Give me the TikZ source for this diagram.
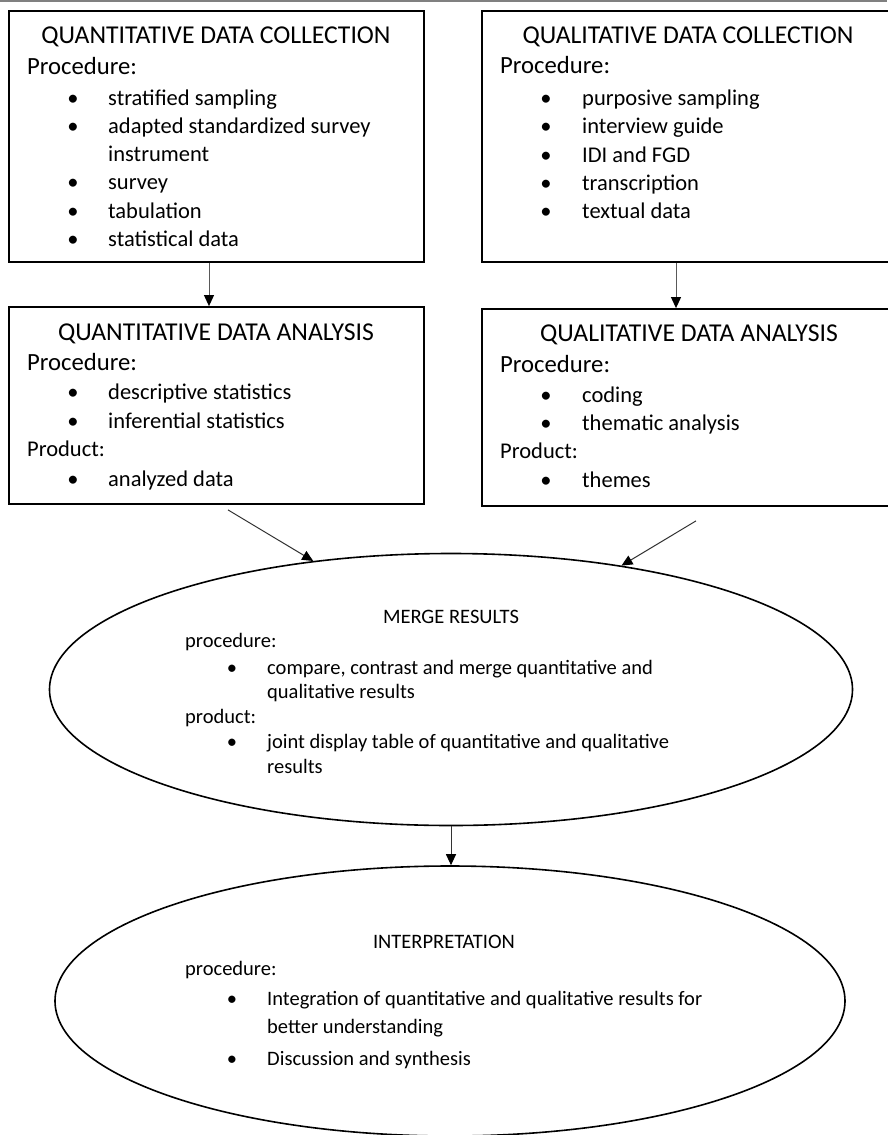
\documentclass[tikz,border=0pt]{standalone}
\usepackage{fontspec}
\setmainfont{Carlito}
\usetikzlibrary{shapes.geometric,arrows.meta}

\begin{document}
\begin{tikzpicture}[x=1pt, y=-1pt,
    stage/.style ={rectangle, draw, line width=1.8pt, inner sep=0pt},
    bubble/.style ={ellipse, draw, line width=1.6pt, inner sep=0pt},
    big/.style ={inner sep=0pt, font=\fontsize{22.5}{27}\selectfont},
    bigger/.style ={inner sep=0pt, font=\fontsize{24.7}{29}\selectfont},
    biggest/.style ={inner sep=0pt, font=\fontsize{25.7}{30}\selectfont},
    small/.style ={inner sep=0pt, font=\fontsize{20.5}{24}\selectfont},
    head/.style ={anchor=base},
    item/.style ={anchor=base west},
    bul/.style ={anchor=base},
    flow/.style ={line width=1pt, black!65, -{Triangle[width=10pt, length=11pt, color=black]}}]
   \useasboundingbox (0,0) rectangle (887,1135);
   \draw[black!50, line width=1.5pt] (0,1) -- (887,1);

   % collection boxes
   \node[stage, minimum width=415pt, minimum height=251pt] (quantcol) at (216.5,136.5) {};
   \node[biggest, head] (qc-title) at (216,43) {QUANTITATIVE DATA COLLECTION};
   \node[bigger, item] (qc-proc) at (27,74) {Procedure:};
   \node[big, bul]  (qc-b1) at (73,105) {•};
   \node[big, item] (qc-i1) at (108,105) {stratified sampling};
   \node[big, bul]  (qc-b2) at (73,133) {•};
   \node[big, item] (qc-i2) at (108,133) {adapted standardized survey};
   \node[big, item] (qc-i2b) at (108,161) {instrument};
   \node[big, bul]  (qc-b3) at (73,189) {•};
   \node[big, item] (qc-i3) at (108,189) {survey};
   \node[big, bul]  (qc-b4) at (73,218) {•};
   \node[big, item] (qc-i4) at (108,218) {tabulation};
   \node[big, bul]  (qc-b5) at (73,246) {•};
   \node[big, item] (qc-i5) at (108,246) {statistical data};

   \node[stage, minimum width=407pt, minimum height=251pt] (qualcol) at (685.5,136.5) {};
   \node[biggest, head] (lc-title) at (688,43) {QUALITATIVE DATA COLLECTION};
   \node[bigger, item] (lc-proc) at (500,73) {Procedure:};
   \node[big, bul]  (lc-b1) at (546,105) {•};
   \node[big, item] (lc-i1) at (582,105) {purposive sampling};
   \node[big, bul]  (lc-b2) at (546,133) {•};
   \node[big, item] (lc-i2) at (582,133) {interview guide};
   \node[big, bul]  (lc-b3) at (546,162) {•};
   \node[big, item] (lc-i3) at (582,162) {IDI and FGD};
   \node[big, bul]  (lc-b4) at (546,190) {•};
   \node[big, item] (lc-i4) at (582,190) {transcription};
   \node[big, bul]  (lc-b5) at (546,218) {•};
   \node[big, item] (lc-i5) at (582,218) {textual data};

   % analysis boxes
   \node[stage, minimum width=415pt, minimum height=197pt] (quantana) at (216.5,405.5) {};
   \node[biggest, head] (qa-title) at (216,340) {QUANTITATIVE DATA ANALYSIS};
   \node[bigger, item] (qa-proc) at (27,370) {Procedure:};
   \node[big, bul]  (qa-b1) at (73,399) {•};
   \node[big, item] (qa-i1) at (108,399) {descriptive statistics};
   \node[big, bul]  (qa-b2) at (73,428) {•};
   \node[big, item] (qa-i2) at (108,428) {inferential statistics};
   \node[big, item] (qa-prod) at (27,456) {Product:};
   \node[big, bul]  (qa-b3) at (73,486) {•};
   \node[big, item] (qa-i3) at (108,486) {analyzed data};

   \node[stage, minimum width=407pt, minimum height=197pt] (qualana) at (685.5,407.5) {};
   \node[biggest, head] (la-title) at (689,341) {QUALITATIVE DATA ANALYSIS};
   \node[bigger, item] (la-proc) at (500,372) {Procedure:};
   \node[big, bul]  (la-b1) at (546,402) {•};
   \node[big, item] (la-i1) at (582,402) {coding};
   \node[big, bul]  (la-b2) at (546,430) {•};
   \node[big, item] (la-i2) at (582,430) {thematic analysis};
   \node[big, item] (la-prod) at (500,458) {Product:};
   \node[big, bul]  (la-b3) at (546,487) {•};
   \node[big, item] (la-i3) at (582,487) {themes};

   % merging and interpretation
   \node[bubble, minimum width=803pt, minimum height=272pt] (merge) at (451,689.5) {};
   \node[small, head] (mg-title) at (451,623) {MERGE RESULTS};
   \node[small, item] (mg-proc) at (185,647) {procedure:};
   \node[small, bul]  (mg-b1) at (232,674) {•};
   \node[small, item] (mg-i1) at (267,674) {compare, contrast and merge quantitative and};
   \node[small, item] (mg-i1b) at (267,698) {qualitative results};
   \node[small, item] (mg-prod) at (185,723) {product:};
   \node[small, bul]  (mg-b2) at (232,748) {•};
   \node[small, item] (mg-i2) at (267,748) {joint display table of quantitative and qualitative};
   \node[small, item] (mg-i2b) at (267,773) {results};

   \node[bubble, minimum width=790pt, minimum height=270pt] (interp) at (450,1001) {};
   \node[small, head] (ip-title) at (444,948) {INTERPRETATION};
   \node[small, item] (ip-proc) at (185,975) {procedure:};
   \node[small, bul]  (ip-b1) at (232,1005) {•};
   \node[small, item] (ip-i1) at (267,1005) {Integration of quantitative and qualitative results for};
   \node[small, item] (ip-i1b) at (267,1033) {better understanding};
   \node[small, bul]  (ip-b2) at (232,1065) {•};
   \node[small, item] (ip-i2) at (267,1065) {Discussion and synthesis};

   \draw[flow] ([xshift=-7.5pt]quantcol.south) -- ([xshift=-7.5pt]quantana.north);
   \draw[flow] ([xshift=-9.5pt]qualcol.south) -- ([xshift=-9.5pt]qualana.north);
   \draw[flow, black!80] ([xshift=11.5pt, yshift=-5pt]quantana.south) -- (merge.137.7);
   \draw[flow, black!80] ([xshift=10.5pt, yshift=-14pt]qualana.south) -- (merge.36.6);
   \draw[flow, black!80] (merge.south) -- (merge.south |- interp.north);
 \end{tikzpicture}
\end{document}
